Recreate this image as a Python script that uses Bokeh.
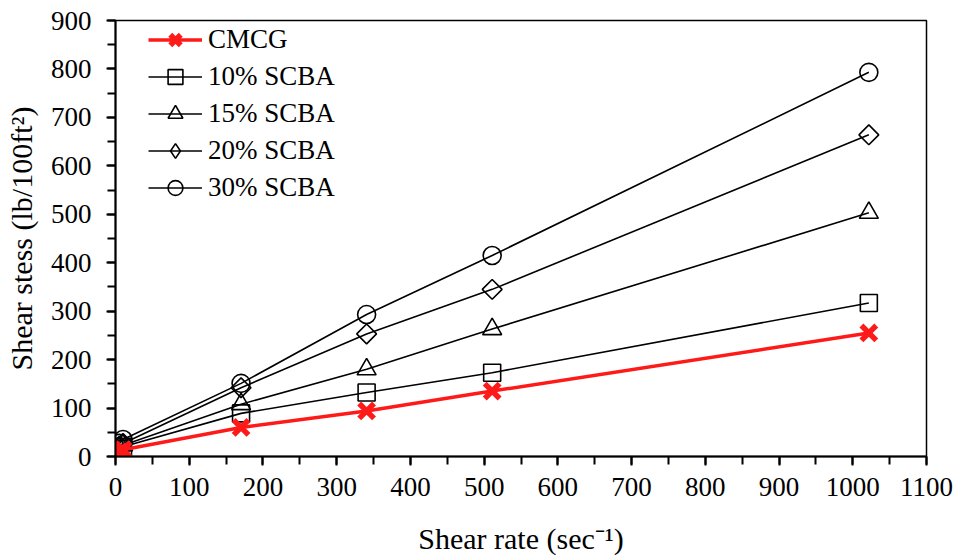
import math

from bokeh.plotting import figure
from bokeh.models import Legend, LegendItem, SingleIntervalTicker, Range1d
from bokeh.embed import file_html
from bokeh.resources import INLINE

# Fann viscometer shear rates (sec^-1) and measured shear stress (lb/100ft2)
shear_rate = [5.1, 10.2, 170.3, 340.6, 510.9, 1021.8]
cmcg = [10, 14, 60, 94, 135, 255]
scba_10 = [16, 20, 89, 132, 173, 317]
scba_15 = [18, 23, 108, 180, 263, 503]
scba_20 = [21, 27, 142, 253, 345, 664]
scba_30 = [27, 35, 151, 293, 415, 793]

x_ticks_interval = 100
y_ticks_interval = 100

FONT = "Liberation Serif"

p = figure(
    width=966, height=560,
    x_range=Range1d(0, 1100), y_range=Range1d(0, 900),
    output_backend="svg", toolbar_location=None,
    min_border_left=115, min_border_right=40,
    min_border_top=20, min_border_bottom=104,
)
p.background_fill_color = "white"
p.border_fill_color = "white"
p.outline_line_color = "black"
p.outline_line_width = 1.5
p.xgrid.visible = False
p.ygrid.visible = False

p.xaxis.ticker = SingleIntervalTicker(interval=x_ticks_interval, num_minor_ticks=2)
p.yaxis.ticker = SingleIntervalTicker(interval=y_ticks_interval, num_minor_ticks=2)

for ax in (p.xaxis[0], p.yaxis[0]):
    ax.axis_line_color = "black"
    ax.axis_line_width = 2
    ax.major_tick_in = 0
    ax.major_tick_out = 9
    ax.minor_tick_in = 0
    ax.minor_tick_out = 8
    ax.major_tick_line_width = 2
    ax.minor_tick_line_width = 2
    ax.major_tick_line_color = "black"
    ax.minor_tick_line_color = "black"
    ax.major_label_text_font = FONT
    ax.major_label_text_font_size = "27px"
    ax.major_label_text_color = "black"
    ax.axis_label_text_font = FONT
    ax.axis_label_text_font_size = "30px"
    ax.axis_label_text_font_style = "normal"
    ax.axis_label_text_color = "black"

p.xaxis.axis_label = "Shear rate (sec\u207b\u00b9)"
p.yaxis.axis_label = "Shear stess (lb/100ft\u00b2)"
p.xaxis.major_label_standoff = 12
p.yaxis.major_label_standoff = 15
p.xaxis.axis_label_standoff = 23
p.yaxis.axis_label_standoff = 10

series = [
    ("10% SCBA", scba_10, "square", 17, 0.0),
    ("15% SCBA", scba_15, "triangle", 19, 0.0),
    ("20% SCBA", scba_20, "square", 14, math.pi / 4),
    ("30% SCBA", scba_30, "circle", 18, 0.0),
]

items = {}
for name, ys, marker, size, angle in series:
    ln = p.line(shear_rate, ys, line_color="black", line_width=1.6)
    sc = p.scatter(shear_rate, ys, marker=marker, size=size, angle=angle,
                   fill_color=None, line_color="black", line_width=1.6)
    items[name] = [ln, sc]

# legend keys ignore marker angle (and size), so the 20% entry gets a
# zero-size diamond renderer that only shows up as its legend key
diamond_key = p.scatter(shear_rate, scba_20, marker="diamond", size=0,
                        fill_color=None, line_color="black", line_width=1.6)
items["20% SCBA"] = [items["20% SCBA"][0], diamond_key]

red_ln = p.line(shear_rate, cmcg, line_color="#ff1a1a", line_width=3.5)
red_sc = p.scatter(shear_rate, cmcg, marker="x", size=21,
                   line_color="#ff1a1a", line_width=5.5)
items["CMCG"] = [red_ln, red_sc]

order = ["CMCG", "10% SCBA", "15% SCBA", "20% SCBA", "30% SCBA"]
legend = Legend(
    items=[LegendItem(label=n, renderers=items[n]) for n in order],
    location=(33, 250),
    margin=0, padding=0,
    spacing=0,
    glyph_width=54, glyph_height=37, label_height=37,
    label_standoff=6,
    label_text_font=FONT, label_text_font_size="27px",
    label_text_color="black",
    border_line_color=None, background_fill_alpha=0,
)
p.add_layout(legend)

open("out.html", "w").write(file_html(p, INLINE))
